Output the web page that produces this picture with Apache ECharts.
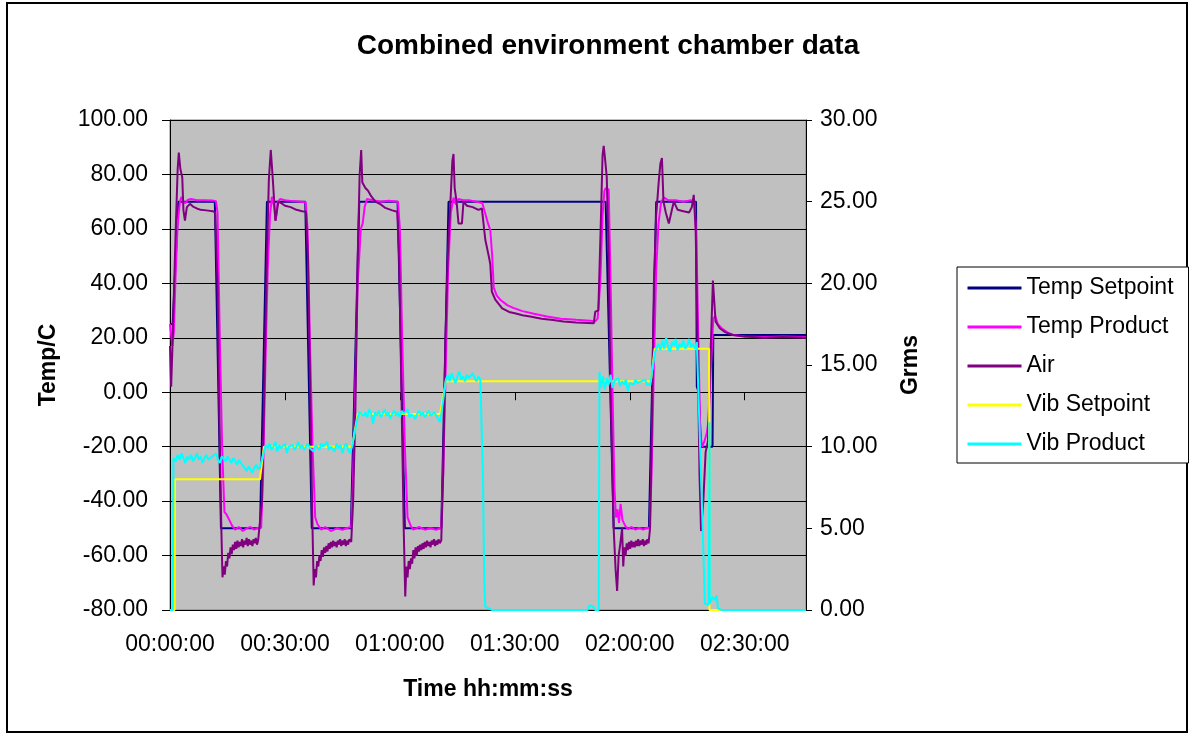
<!DOCTYPE html>
<html><head><meta charset="utf-8">
<script src="https://cdn.jsdelivr.net/npm/echarts@6/dist/echarts.min.js"></script>
<style>html,body{margin:0;padding:0;background:#fff}#c{width:1193px;height:734px}</style>
</head><body><div id="c"></div>
<script>
// time in minutes from start
const xTickMinutes = [0, 30, 60, 90, 120, 150];
const seriesNames = ['Temp Setpoint', 'Temp Product', 'Air', 'Vib Setpoint', 'Vib Product'];

const tempSetpoint = [[0,25],[0.7,25],[2.2,70],[11.7,70],[13.3,-50],[23.5,-50],[25.3,70],[35.3,70],[37.0,-50],[47.2,-50],[49.4,70],[59.4,70],[61.3,-50],[70.8,-50],[72.7,70],[113.7,70],[115.8,-50],[125.0,-50],[126.9,70],[137.3,70],[137.5,2],[138.0,0],[138.6,-20],[141.6,-20],[141.8,21],[166,21]];

const tempProduct = [[0,25],[0.3,24.5],[0.6,17],[1.0,22],[1.5,45],[2.0,62],[2.6,70],[3.0,71.8],[3.4,70],[4.0,69.5],[4.6,70.6],[5.5,71],[7,70.5],[9,70.5],[11,70.4],[12.0,70.2],[12.4,66],[13.0,20],[13.6,-20],[14.2,-44],[14.8,-45],[15.5,-47],[16.2,-49],[17,-50.5],[18,-49.5],[19,-51],[20,-50],[21,-49.5],[22,-50.5],[23,-49.8],[23.8,-49.8],[24.3,-30],[24.9,10],[25.5,45],[26.1,65],[26.6,71.8],[27.2,68],[27.6,63],[28.1,70],[28.8,71],[30,70.5],[32,70.2],[34,70],[35.4,69.8],[35.9,60],[36.5,20],[37.2,-20],[37.9,-46],[38.5,-48.5],[39.5,-50.5],[40.5,-49.5],[42,-51],[43.5,-50],[45,-50.5],[46.5,-49.8],[47.3,-49.5],[47.8,-30],[48.4,5],[49.0,40],[49.8,60],[50.3,62],[50.8,68],[51.4,71],[53,70.5],[55,70],[57,70.3],[59.5,70],[60.0,60],[60.6,20],[61.3,-20],[62.0,-46],[62.8,-49],[63.5,-50.5],[65,-49.5],[66.5,-50.5],[68,-50],[69.5,-50.5],[70.8,-49.8],[71.3,-30],[71.9,5],[72.6,45],[73.3,66],[74.0,71.5],[74.6,69],[75.3,71],[76.5,70.5],[78,70.5],[80,70],[81.5,69.5],[82.0,67],[83.0,62],[83.6,59.6],[84.1,50],[84.5,38.3],[85.3,35.5],[86.2,34],[88,32],[89.6,31],[92,29.8],[95,28.8],[98.4,27.8],[102,27],[106,26.6],[109.7,26.3],[111.0,26],[111.6,27],[112.3,40],[112.9,65],[113.4,74],[113.7,75],[114.5,74.5],[115.0,40],[115.5,0],[116.0,-35],[116.4,-46],[116.8,-43],[117.2,-48],[117.6,-41],[118.1,-47],[118.8,-49],[119.5,-50.3],[120.5,-49.5],[121.5,-50.5],[122.5,-49.8],[123.5,-50.5],[124.5,-49.8],[125.2,-50],[125.7,-30],[126.3,10],[126.9,45],[127.5,62],[128.2,70],[129,71.5],[130,70.5],[132,70.5],[134,70],[136,70.5],[136.9,70],[137.4,55],[137.9,20],[138.4,-15],[138.9,-20],[139.5,-18],[140.1,-15],[140.6,-10],[141.2,10],[141.8,27],[142.3,28],[143,25],[144,23.5],[145.5,22],[147,21],[150,20.5],[155,20.3],[160,20.5],[166,20.3]];

const airTemp = [[0,17],[0.3,2],[0.6,15],[1.0,35],[1.5,60],[2.0,82],[2.3,88],[2.7,82],[3.2,79],[3.5,67],[3.9,63],[4.4,68],[5.2,69.2],[6,68.2],[7,67.5],[8,67],[9.5,66.8],[11.2,66.5],[11.8,66],[12.4,40],[12.9,-10],[13.4,-50],[13.7,-68],[14.0,-64],[14.3,-67],[14.6,-62],[14.9,-64],[15.2,-59],[15.5,-61],[15.8,-57],[16.1,-59.5],[16.4,-56],[16.7,-58],[17.0,-55],[17.3,-57.5],[17.6,-54.5],[17.9,-57],[18.2,-55],[18.5,-56.5],[18.8,-54],[19.1,-57],[19.4,-54.5],[19.7,-56],[20.0,-53.5],[20.3,-56.5],[20.6,-54],[20.9,-56],[21.2,-54.5],[21.5,-56.5],[21.8,-54],[22.1,-55.5],[22.4,-53.5],[22.7,-56],[23.0,-54.5],[23.5,-55],[24.0,-40],[24.6,0],[25.3,50],[25.8,78],[26.3,89],[26.8,79],[27.5,63],[28.3,70],[29,69.5],[30,68.5],[31.5,68],[33,67],[34.5,66.5],[35.5,66.3],[36.0,50],[36.6,0],[37.2,-50],[37.5,-71],[37.8,-65],[38.1,-68],[38.4,-62],[38.7,-64],[39.0,-60],[39.3,-62],[39.6,-58],[39.9,-60.5],[40.2,-57],[40.5,-59],[40.8,-56.5],[41.1,-58.5],[41.4,-55.5],[41.7,-57.5],[42.0,-55],[42.3,-57],[42.6,-54.5],[42.9,-56.5],[43.2,-55],[43.5,-57],[43.8,-54.5],[44.1,-56],[44.4,-54],[44.7,-56.5],[45.0,-54.5],[45.3,-56],[45.6,-54],[45.9,-56.5],[46.2,-54.5],[46.5,-56],[46.8,-54],[47.3,-55],[47.8,-40],[48.4,-5],[49.0,50],[49.5,80],[49.9,89],[50.2,77],[51,75],[51.7,74],[52.5,72],[53.6,70],[55,69],[56.2,67.7],[58,66.8],[59.3,66.3],[59.8,50],[60.4,0],[61.0,-50],[61.4,-75],[61.7,-64],[62.0,-68],[62.3,-62],[62.6,-65],[62.9,-61],[63.2,-63],[63.5,-58],[63.8,-61],[64.1,-57],[64.4,-60],[64.7,-56.5],[65.0,-58.5],[65.3,-56],[65.6,-58],[65.9,-55.5],[66.2,-57.5],[66.5,-55],[66.8,-57],[67.1,-54.5],[67.4,-56.5],[67.7,-55],[68.0,-57],[68.3,-54.5],[68.6,-56],[68.9,-54],[69.2,-56.5],[69.5,-54.5],[69.8,-56],[70.1,-54],[70.4,-55.5],[70.8,-54.5],[71.3,-30],[71.9,20],[72.5,50],[73.2,70],[73.7,85],[74.0,87.5],[74.3,75],[74.8,70],[75.3,62],[76.2,62],[76.6,70],[77.5,68.5],[79,68],[80.5,67],[81.4,67.5],[82.3,56],[83.2,50],[83.6,47],[84.0,37],[84.9,34],[86.7,30.8],[88.5,29.5],[90,29],[92,28.3],[94,27.8],[97,27],[100,26.5],[102.7,26],[106,25.6],[110.6,25.3],[111.0,29.6],[111.8,30],[112.4,60],[112.9,87],[113.2,90.5],[113.6,85],[114.0,79],[114.5,50],[115.0,0],[115.8,-50],[116.3,-65],[116.7,-73],[117.1,-60],[117.5,-56],[118.0,-50],[118.3,-64],[118.6,-57],[118.9,-60],[119.2,-55.5],[119.5,-58],[119.8,-55],[120.1,-57.5],[120.4,-54.5],[120.7,-57],[121.0,-55],[121.3,-57],[121.6,-54.5],[121.9,-56.5],[122.2,-54],[122.5,-56.5],[122.8,-54.5],[123.1,-56],[123.4,-54],[123.7,-56.5],[124.0,-54.5],[124.3,-56],[124.6,-54],[124.9,-55.5],[125.3,-50],[125.8,-10],[126.3,40],[126.9,65],[127.6,78],[128.0,84],[128.4,86],[128.8,70],[129.4,66],[130.2,62],[131.0,67],[131.5,70],[132.5,67],[134,66.5],[135.5,66],[136.2,68],[136.7,72.5],[137.2,60],[137.8,10],[138.2,-30],[138.6,-51],[139.2,-40],[139.8,-22],[140.4,-18],[141.0,10],[141.7,41],[142.4,26],[143.5,23.5],[145,22],[147,21],[150,20.5],[155,20],[160,20.3],[166,20]];

const vibSetpoint = [[0,0],[1.2,0],[1.3,8],[23.5,8],[24.5,10],[47.5,10],[49,12],[70.5,12],[72,14],[125.5,14],[126.5,16],[140.7,16],[140.8,0],[166,0]];

const vibProduct = [[0,0],[0.7,0],[0.9,9.3],
[1.0,9.4],[1.5,9.1],[2.0,9.5],[2.5,9.2],[3.0,9.6],[3.5,9.3],[4.0,9.0],[4.5,9.4],[5.0,9.2],[5.5,9.5],[6.0,9.1],[6.5,9.3],[7.0,9.6],[7.5,9.2],[8.0,9.4],[8.5,9.0],[9.0,9.3],[9.5,9.5],[10.0,9.2],[10.5,9.1],[11.0,9.4],[11.5,9.3],[12.0,9.6],[12.5,9.2],[13.0,9.0],[13.5,9.4],[14.0,9.3],[14.5,9.1],[15.0,9.4],
[15.5,9.2],[16.0,9.0],[16.5,9.3],[17.0,9.1],[17.5,8.9],[18.0,9.2],[18.5,9.0],[19.0,9.1],[19.5,8.7],[20.0,8.5],[20.5,8.8],[21.0,8.6],[21.5,8.4],[22.0,8.7],[22.5,8.9],[23.0,8.6],[23.5,8.8],[24.0,9.2],[24.5,9.7],[25.0,10.1],
[25.5,9.9],[26.0,10.2],[26.5,9.8],[27.0,10.0],[27.5,10.3],[28.0,9.7],[28.5,10.1],[29.0,9.9],[29.5,10.0],[30.0,10.2],[30.5,9.6],[31.0,10.0],[31.5,9.9],[32.0,10.1],[32.5,9.8],[33.0,10.0],[33.5,10.3],[34.0,9.9],[34.5,10.1],[35.0,9.8],[35.5,10.0],[36.0,10.2],[36.5,9.9],[37.0,10.0],[37.5,9.7],[38.0,10.1],[38.5,10.0],[39.0,9.8],[39.5,10.2],[40.0,10.0],[40.5,9.9],[41.0,10.3],[41.5,9.8],[42.0,10.0],[42.5,10.1],[43.0,9.7],[43.5,10.2],[44.0,9.9],[44.5,10.1],[45.0,9.6],[45.5,10.0],[46.0,10.2],[46.5,9.8],[47.0,9.6],[47.5,10.0],[48.0,10.6],[48.5,11.2],[49.0,11.8],[49.5,12.1],
[50.0,12.2],[50.5,11.9],[51.0,12.1],[51.5,11.8],[52.0,12.3],[52.5,12.0],[53.0,11.4],[53.5,12.1],[54.0,11.9],[54.5,12.2],[55.0,11.8],[55.5,12.0],[56.0,12.3],[56.5,11.9],[57.0,12.1],[57.5,11.7],[58.0,12.0],[58.5,12.2],[59.0,11.9],[59.5,12.1],[60.0,11.8],[60.5,12.2],[61.0,12.0],[61.5,11.9],[62.0,12.3],[62.5,11.8],[63.0,12.0],[63.5,12.1],[64.0,11.7],[64.5,12.0],[65.0,12.2],[65.5,11.9],[66.0,12.1],[66.5,11.8],[67.0,12.0],[67.5,12.2],[68.0,11.9],[68.5,11.8],[69.0,12.1],[69.5,11.9],[70.0,11.7],[70.5,11.5],[71.0,12.3],[71.5,13.2],[72.0,14.1],
[72.5,14.4],[73.0,14.0],[73.5,14.5],[74.0,14.2],[74.5,13.9],[75.0,14.3],[75.5,14.6],[76.0,14.1],[76.5,14.3],[77.0,14.0],[77.5,14.4],[78.0,14.2],[78.5,14.1],[79.0,14.5],[79.5,14.2],[80.0,14.0],[80.5,14.3],[81.0,14.1],[81.4,14.0],[81.7,8.0],[82.0,2.0],[82.3,0.2],[82.8,0.3],[83.3,0.1],[84.0,0],[109.0,0],[109.5,0.3],[110.5,0.2],[111.0,0],[111.9,0],[112.1,14.6],
[112.5,13.6],[113.0,14.3],[113.5,13.5],[114.0,14.2],[114.5,13.8],[115.0,14.4],[115.5,13.6],[116.0,14.0],[116.5,13.9],[117.0,14.2],[117.5,13.7],[118.0,14.0],[118.5,13.8],[119.0,14.1],[119.5,13.4],[120.0,13.9],[120.5,14.0],[121.0,13.8],[121.5,14.1],[122.0,13.9],[122.5,13.8],[123.0,14.0],[123.5,13.9],[124.0,14.1],[124.5,13.8],[125.0,13.9],[125.4,13.8],[125.8,14.6],[126.2,15.2],[126.6,15.8],[127.1,16.1],
[127.5,16.3],[128.0,15.9],[128.5,16.5],[129.0,16.0],[129.5,16.7],[130.0,16.1],[130.5,15.8],[131.0,16.4],[131.5,16.2],[132.0,16.6],[132.5,15.9],[133.0,16.3],[133.5,16.1],[134.0,16.5],[134.5,16.0],[135.0,16.2],[135.5,16.6],[136.0,16.1],[136.5,16.3],[137.0,16.0],[137.5,16.4],[138.0,16.5],[139.1,4.5],[139.6,0.4],[140.6,0.3],[140.8,11.5],[140.9,0.4],[141.3,0.3],[141.6,0.8],[142.2,0.6],[142.7,0.9],[143.0,0.1],[144,0],[166,0]];

const FONT = "'Liberation Sans', Arial, sans-serif";
function hms(m) {
  const h = Math.floor(m / 60), mm = Math.round(m % 60);
  return String(h).padStart(2, '0') + ':' + String(mm).padStart(2, '0') + ':00';
}
const chart = echarts.init(document.getElementById('c'), null, {renderer: 'canvas'});
const colors = ['#000080', '#FF00FF', '#800080', '#FFFF00', '#00FFFF'];
const datas = [tempSetpoint, tempProduct, airTemp, vibSetpoint, vibProduct];
chart.setOption({
  animation: false,
  backgroundColor: '#ffffff',
  textStyle: {fontFamily: FONT},
  title: {
    text: 'Combined environment chamber data',
    left: 603, top: 27, textAlign: 'center',
    textStyle: {fontFamily: FONT, fontWeight: 'bold', fontSize: 28, color: '#000'}
  },
  graphic: [{type: 'rect', z: -1, silent: true, shape: {x: 7, y: 3, width: 1180, height: 729},
    style: {fill: 'none', stroke: '#000', lineWidth: 2}}],
  legend: {
    orient: 'vertical', left: 957, top: 267,
    data: seriesNames,
    itemWidth: 54, itemHeight: 24, itemGap: 15,
    padding: [9, 15, 7, 9],
    borderColor: '#000', borderWidth: 1, backgroundColor: '#fff',
    itemStyle: {opacity: 0, borderWidth: 0},
    lineStyle: {width: 3},
    textStyle: {fontFamily: FONT, fontSize: 23, color: '#000', lineHeight: 24}
  },
  grid: {left: 170, top: 120, width: 636, height: 490, show: true,
    backgroundColor: '#C0C0C0', borderColor: '#808080', borderWidth: 1},
  xAxis: {
    type: 'value', min: 0, max: 166,
    name: 'Time hh:mm:ss', nameLocation: 'middle', nameGap: 68,
    nameTextStyle: {fontFamily: FONT, fontWeight: 'bold', fontSize: 23, color: '#000'},
    axisLine: {lineStyle: {color: '#000', width: 1}},
    axisTick: {show: true, length: 8, lineStyle: {color: '#000'}, customValues: xTickMinutes},
    axisLabel: {fontFamily: FONT, fontSize: 23, color: '#000', margin: 23,
      customValues: xTickMinutes, formatter: v => hms(v)},
    splitLine: {show: false}
  },
  yAxis: [{
    type: 'value', min: -80, max: 100, interval: 20, position: 'left',
    name: 'Temp/C', nameLocation: 'middle', nameGap: 110, nameRotate: 90,
    nameTextStyle: {fontFamily: FONT, fontWeight: 'bold', fontSize: 23, color: '#000'},
    axisLine: {show: true, lineStyle: {color: '#000', width: 1}},
    axisTick: {show: true, length: 8, lineStyle: {color: '#000'}},
    axisLabel: {fontFamily: FONT, fontSize: 23, color: '#000', margin: 22, formatter: v => v.toFixed(2)},
    splitLine: {show: true, lineStyle: {color: '#000', width: 1}}
  }, {
    type: 'value', min: 0, max: 30, interval: 5, position: 'right',
    name: 'Grms', nameLocation: 'middle', nameGap: 93, nameRotate: 90,
    nameTextStyle: {fontFamily: FONT, fontWeight: 'bold', fontSize: 23, color: '#000'},
    axisLine: {show: true, lineStyle: {color: '#000', width: 1}},
    axisTick: {show: true, length: 6, lineStyle: {color: '#000'}},
    axisLabel: {fontFamily: FONT, fontSize: 23, color: '#000', margin: 14, formatter: v => v.toFixed(2)},
    splitLine: {show: false}
  }],
  series: seriesNames.map((n, i) => ({
    name: n, type: 'line', yAxisIndex: i < 3 ? 0 : 1,
    data: datas[i], showSymbol: false, symbol: 'none',
    lineStyle: {color: colors[i], width: 2}, itemStyle: {color: colors[i]},
    clip: true, z: 2 + i
  }))
});
</script></body></html>
